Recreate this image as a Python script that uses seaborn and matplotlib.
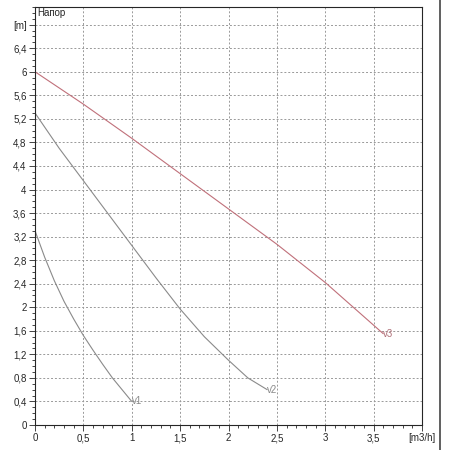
import matplotlib
matplotlib.use("Agg")
import matplotlib.pyplot as plt
import seaborn as sns
import numpy as np
from matplotlib.ticker import MultipleLocator

sns.set_style("white")
plt.rcParams['font.family'] = ['Liberation Sans', 'DejaVu Sans']

v1_q = [0, 0.1, 0.2, 0.3, 0.4, 0.5, 0.6, 0.7, 0.8, 0.9, 1.0]
v1_h = [3.3, 2.85, 2.45, 2.1, 1.8, 1.52, 1.27, 1.03, 0.8, 0.6, 0.4]
v2_q = [0, 0.25, 0.5, 0.75, 1.0, 1.25, 1.5, 1.75, 2.0, 2.2, 2.4]
v2_h = [5.3, 4.7, 4.15, 3.6, 3.05, 2.5, 1.97, 1.5, 1.1, 0.8, 0.6]
v3_q = [0, 0.5, 1.0, 1.5, 2.0, 2.5, 3.0, 3.6]
v3_h = [6.0, 5.45, 4.87, 4.27, 3.67, 3.07, 2.42, 1.55]
xticks = [0, 0.5, 1, 1.5, 2, 2.5, 3, 3.5, 4]
xlabels = ["0", "0,5", "1", "1,5", "2", "2,5", "3", "3,5", "[m3/h]"]
yticks = [0, 0.4, 0.8, 1.2, 1.6, 2, 2.4, 2.8, 3.2, 3.6, 4, 4.4, 4.8, 5.2, 5.6, 6, 6.4, 6.8]
ylabels = [f"{v:g}".replace(".", ",") for v in yticks[:-1]] + ["[m]"]

fig = plt.figure(figsize=(4.5, 4.5), dpi=100)
ax = fig.add_axes([35/450, 25/450, 387/450, 418/450])
ax.set_position([35/450, 25/450, 387/450, (425-7)/450])

sns.lineplot(x=v1_q, y=v1_h, ax=ax, color="#8a8a8a", lw=0.8)
sns.lineplot(x=v2_q, y=v2_h, ax=ax, color="#8a8a8a", lw=0.8)
sns.lineplot(x=v3_q, y=v3_h, ax=ax, color="#c0707a", lw=0.8)
ax.text(1.0, 0.4, "v1", color="#888888", fontsize=7, va="center")
ax.text(2.4, 0.6, "v2", color="#888888", fontsize=7, va="center")
ax.text(3.6, 1.55, "v3", color="#b07078", fontsize=7, va="center")
ax.text(0.02, 7.0, "Напор", fontsize=7, va="center")

ax.set_xlim(0, 4)
ax.set_ylim(0, 7.1)
ax.set_xticks(xticks)
ax.set_xticklabels(xlabels, fontsize=7)
ax.set_yticks(yticks)
ax.set_yticklabels(ylabels, fontsize=7)
ax.xaxis.set_minor_locator(MultipleLocator(0.1))
ax.yaxis.set_minor_locator(MultipleLocator(0.1))
ax.tick_params(which="both", direction="out", length=3, width=0.6, pad=2)
ax.tick_params(which="minor", length=2)
ax.tick_params(which="major", length=4, bottom=True, left=True)
ax.tick_params(which="minor", bottom=True, left=True)
ax.grid(True, which="major", ls=(0, (2, 2)), color="#999999", lw=0.7)
for s in ax.spines.values():
    s.set_linewidth(0.8)
fig.add_artist(plt.Line2D([440/450, 440/450], [0, 1], color="#444444", lw=1.2))
fig.savefig("out.png", dpi=100)
